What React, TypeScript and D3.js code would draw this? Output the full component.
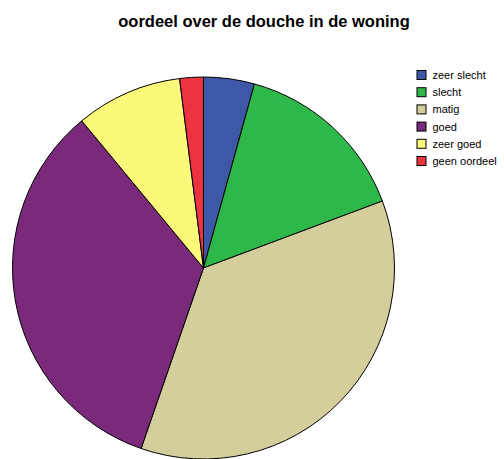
import React from "react";
import * as d3 from "d3";

const categories = ["zeer slecht", "slecht", "matig", "goed", "zeer goed", "geen oordeel"];
const values = [4.3, 15.0, 36.0, 33.7, 9.0, 2.0];
const colors = ["#3E58A8", "#2EB84A", "#D4CE9C", "#7B2A7B", "#FBF87A", "#EE3340"];
const title = "oordeel over de douche in de woning";

export default function App() {
  const W = 504, H = 459;
  const cx = 203.5, cy = 268, r = 191;
  const pie = d3.pie<number>().sort(null).value((d) => d)(values);
  const arc = d3.arc<d3.PieArcDatum<number>>().innerRadius(0).outerRadius(r);
  return (
    <svg width={W} height={H} style={{ position: "absolute", left: 0, top: 0, fontFamily: "'Liberation Sans', Arial, sans-serif" }}>
      <rect width={W} height={H} fill="#fff" />
      <text x={264} y={27} textAnchor="middle" fontSize={16.5} fontWeight="bold" fill="#000">{title}</text>
      <g transform={`translate(${cx},${cy})`}>
        {pie.map((p, i) => (
          <path key={i} d={arc(p) || ""} fill={colors[i]} stroke="#000" strokeWidth={1} strokeLinejoin="round" />
        ))}
      </g>
      <g>
        {categories.map((c, i) => (
          <g key={c} transform={`translate(417,${75 + i * 17.2})`}>
            <rect x={0} y={-4.5} width={9} height={9} fill={colors[i]} stroke="#000" strokeWidth={1} />
            <text x={15.5} y={4} fontSize={11} fill="#000">{c}</text>
          </g>
        ))}
      </g>
    </svg>
  );
}
